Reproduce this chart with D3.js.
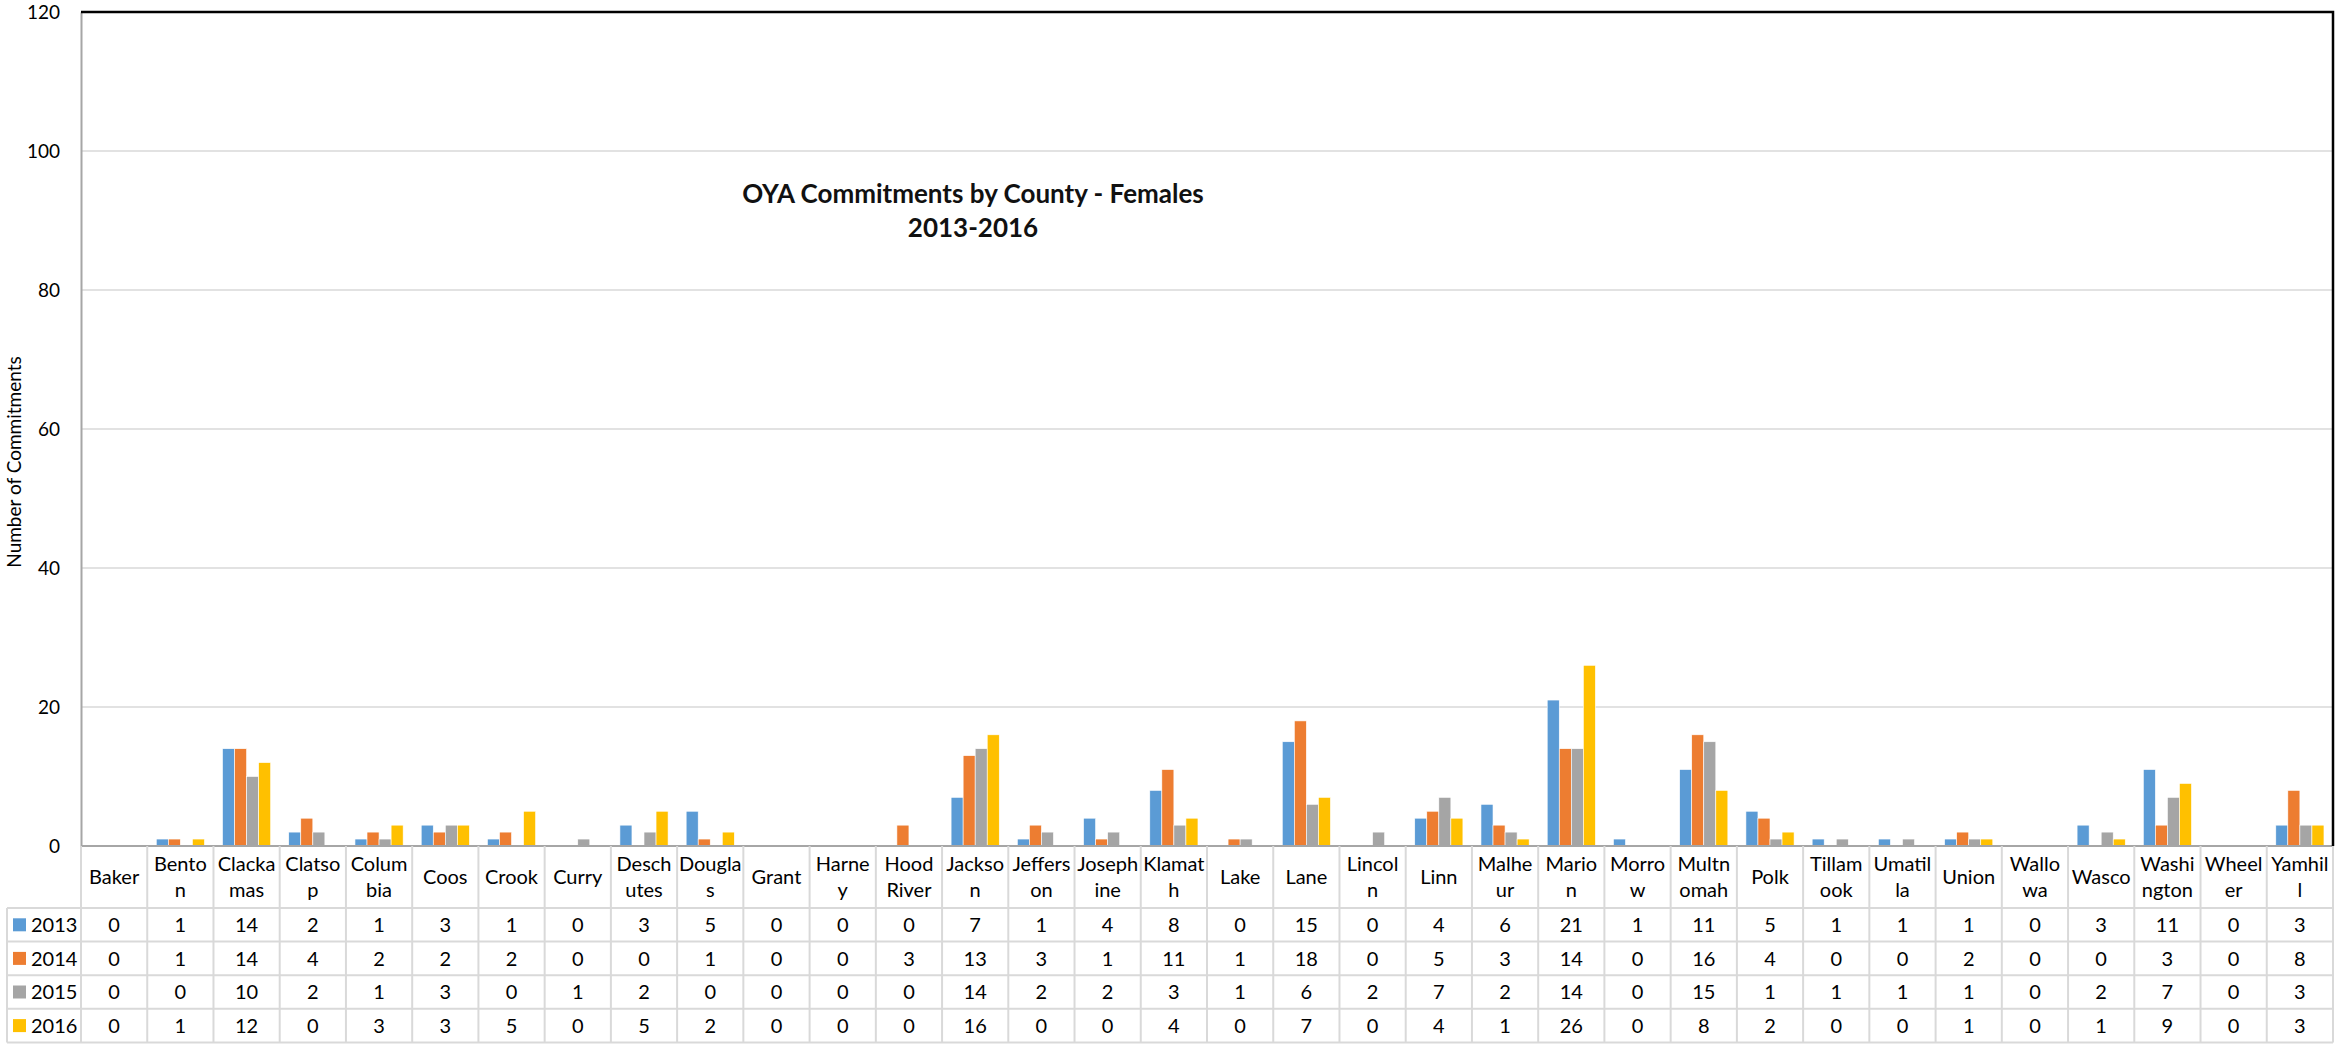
<!DOCTYPE html>
<html>
<head>
<meta charset="utf-8">
<script src="https://cdn.jsdelivr.net/npm/d3@7"></script>
<style>
    body { margin: 0; background: #fff; }
    svg { display: block; font-family: Lato, "Open Sans", sans-serif; }
</style>
</head>
<body>
<svg id="chart" width="2338" height="1045"></svg>
<script>
const counties = ["Baker", "Benton", "Clackamas", "Clatsop", "Columbia", "Coos", "Crook", "Curry",
    "Deschutes", "Douglas", "Grant", "Harney", "Hood River", "Jackson", "Jefferson", "Josephine",
    "Klamath", "Lake", "Lane", "Lincoln", "Linn", "Malheur", "Marion", "Morrow", "Multnomah", "Polk",
    "Tillamook", "Umatilla", "Union", "Wallowa", "Wasco", "Washington", "Wheeler", "Yamhill"];

// header text as it wraps in the table cells
const headerLines = [["Baker"], ["Bento", "n"], ["Clacka", "mas"], ["Clatso", "p"], ["Colum", "bia"],
    ["Coos"], ["Crook"], ["Curry"], ["Desch", "utes"], ["Dougla", "s"], ["Grant"], ["Harne", "y"],
    ["Hood", "River"], ["Jackso", "n"], ["Jeffers", "on"], ["Joseph", "ine"], ["Klamat", "h"], ["Lake"],
    ["Lane"], ["Lincol", "n"], ["Linn"], ["Malhe", "ur"], ["Mario", "n"], ["Morro", "w"], ["Multn", "omah"],
    ["Polk"], ["Tillam", "ook"], ["Umatil", "la"], ["Union"], ["Wallo", "wa"], ["Wasco"], ["Washi", "ngton"],
    ["Wheel", "er"], ["Yamhil", "l"]];

const years = ["2013", "2014", "2015", "2016"];
const colors = ["#5B9BD5", "#ED7D31", "#A5A5A5", "#FFC000"];

const v2013 = [0, 1, 14, 2, 1, 3, 1, 0, 3, 5, 0, 0, 0, 7, 1, 4, 8, 0, 15, 0, 4, 6, 21, 1, 11, 5, 1, 1, 1, 0, 3, 11, 0, 3];
const v2014 = [0, 1, 14, 4, 2, 2, 2, 0, 0, 1, 0, 0, 3, 13, 3, 1, 11, 1, 18, 0, 5, 3, 14, 0, 16, 4, 0, 0, 2, 0, 0, 3, 0, 8];
const v2015 = [0, 0, 10, 2, 1, 3, 0, 1, 2, 0, 0, 0, 0, 14, 2, 2, 3, 1, 6, 2, 7, 2, 14, 0, 15, 1, 1, 1, 1, 0, 2, 7, 0, 3];
const v2016 = [0, 1, 12, 0, 3, 3, 5, 0, 5, 2, 0, 0, 0, 16, 0, 0, 4, 0, 7, 0, 4, 1, 26, 0, 8, 2, 0, 0, 1, 0, 1, 9, 0, 3];

const yTicks = [0, 20, 40, 60, 80, 100, 120];

const series = [v2013, v2014, v2015, v2016];

let svg = d3.select("#chart");

const plotLeft = 81, plotRight = 2333, plotTop = 12, plotBottom = 846;
const tableLeft = 7, headerBottom = 908, rowH = 33.6;
const gridColor = "#d9d9d9";

let x = d3.scaleBand()
    .domain(counties)
    .range([plotLeft, plotRight])
    .paddingInner(0)
    .paddingOuter(0);

// Excel-like gap width of 150%: 4 bars + 1.5 bar of gap per category
let barW = x.bandwidth() / 5.5;
let x1 = d3.scaleBand()
    .domain(years)
    .range([barW * 0.75, x.bandwidth() - barW * 0.75])
    .padding(0);

let y = d3.scaleLinear()
    .domain([0, 120])
    .range([plotBottom, plotTop]);

// gridlines
svg.append("g")
    .selectAll("line")
    .data(yTicks.filter(t => t > 0 && t < 120))
    .join("line")
    .attr("x1", plotLeft)
    .attr("x2", plotRight)
    .attr("y1", d => y(d))
    .attr("y2", d => y(d))
    .attr("stroke", gridColor)
    .attr("stroke-width", 1.5);

// y axis
let yAxis = svg.append("g")
    .attr("transform", `translate(${plotLeft},0)`)
    .call(d3.axisLeft(y).tickValues(yTicks).tickSize(0).tickPadding(21));
yAxis.select(".domain").attr("stroke", "#a6a6a6").attr("stroke-width", 2);
yAxis.selectAll("text")
    .attr("font-family", "Lato, sans-serif")
    .attr("font-size", 19)
    .attr("fill", "#000");

// bars
let groups = svg.append("g")
    .selectAll("g")
    .data(series)
    .join("g")
    .attr("fill", (d, i) => colors[i]);

groups.selectAll("rect")
    .data((d, i) => d.map((v, j) => ({ county: counties[j], year: years[i], value: v })).filter(e => e.value > 0))
    .join("rect")
    .attr("x", d => x(d.county) + x1(d.year))
    .attr("width", x1.bandwidth())
    .attr("y", d => y(d.value))
    .attr("height", d => y(0) - y(d.value))
    .attr("stroke", "#fff")
    .attr("stroke-width", 0.6);

// x axis line
svg.append("line")
    .attr("x1", plotLeft)
    .attr("x2", plotRight)
    .attr("y1", plotBottom)
    .attr("y2", plotBottom)
    .attr("stroke", "#a6a6a6")
    .attr("stroke-width", 2);

// frame on top and right
svg.append("path")
    .attr("d", `M${plotLeft},${plotTop}H${plotRight}V${plotBottom}`)
    .attr("fill", "none")
    .attr("stroke", "#000")
    .attr("stroke-width", 2.5);

// title
let title = svg.append("text")
    .attr("x", 973)
    .attr("y", 203)
    .attr("text-anchor", "middle")
    .attr("font-family", "Lato, sans-serif")
    .attr("font-weight", "bold")
    .attr("font-size", 26)
    .attr("fill", "#111");
title.append("tspan").attr("x", 973).text("OYA Commitments by County - Females");
title.append("tspan").attr("x", 973).attr("dy", 34).text("2013-2016");

// y axis title
svg.append("text")
    .attr("transform", "translate(21,462) rotate(-90)")
    .attr("text-anchor", "middle")
    .attr("font-family", "Lato, sans-serif")
    .attr("font-size", 19)
    .attr("fill", "#000")
    .text("Number of Commitments");

// data table
let table = svg.append("g").attr("font-family", "Lato, sans-serif").attr("font-size", 20).attr("fill", "#000");
let rowTop = i => headerBottom + i * rowH;

// vertical lines at category boundaries
let bounds = counties.map(c => x(c)).concat([plotRight]);
table.selectAll("line.v")
    .data(bounds)
    .join("line")
    .attr("class", "v")
    .attr("x1", d => d)
    .attr("x2", d => d)
    .attr("y1", plotBottom)
    .attr("y2", rowTop(4))
    .attr("stroke", gridColor)
    .attr("stroke-width", 2);

table.append("line")
    .attr("x1", tableLeft).attr("x2", tableLeft)
    .attr("y1", headerBottom).attr("y2", rowTop(4))
    .attr("stroke", gridColor).attr("stroke-width", 2);

table.selectAll("line.h")
    .data(d3.range(5))
    .join("line")
    .attr("class", "h")
    .attr("x1", tableLeft)
    .attr("x2", plotRight)
    .attr("y1", d => rowTop(d))
    .attr("y2", d => rowTop(d))
    .attr("stroke", gridColor)
    .attr("stroke-width", 2);

// header labels
table.selectAll("text.head")
    .data(headerLines)
    .join("text")
    .attr("class", "head")
    .attr("text-anchor", "middle")
    .attr("x", (d, i) => x(counties[i]) + x.bandwidth() / 2)
    .attr("y", d => d.length === 1 ? 884 : 871)
    .selectAll("tspan")
    .data(d => d)
    .join("tspan")
    .attr("x", function () { return d3.select(this.parentNode).attr("x"); })
    .attr("dy", (d, i) => i === 0 ? 0 : 26)
    .text(d => d);

// legend keys + year labels
let rows = table.selectAll("g.row")
    .data(series)
    .join("g")
    .attr("class", "row")
    .attr("transform", (d, i) => `translate(0,${rowTop(i) + rowH / 2})`);

rows.append("rect")
    .attr("x", 13)
    .attr("y", -6.5)
    .attr("width", 13)
    .attr("height", 13)
    .attr("fill", (d, i) => colors[i]);

rows.append("text")
    .attr("x", 31)
    .attr("dy", "0.36em")
    .text((d, i) => years[i]);

rows.selectAll("text.val")
    .data(d => d)
    .join("text")
    .attr("class", "val")
    .attr("text-anchor", "middle")
    .attr("x", (d, j) => x(counties[j]) + x.bandwidth() / 2)
    .attr("dy", "0.36em")
    .text(d => d);
</script>
</body>
</html>
